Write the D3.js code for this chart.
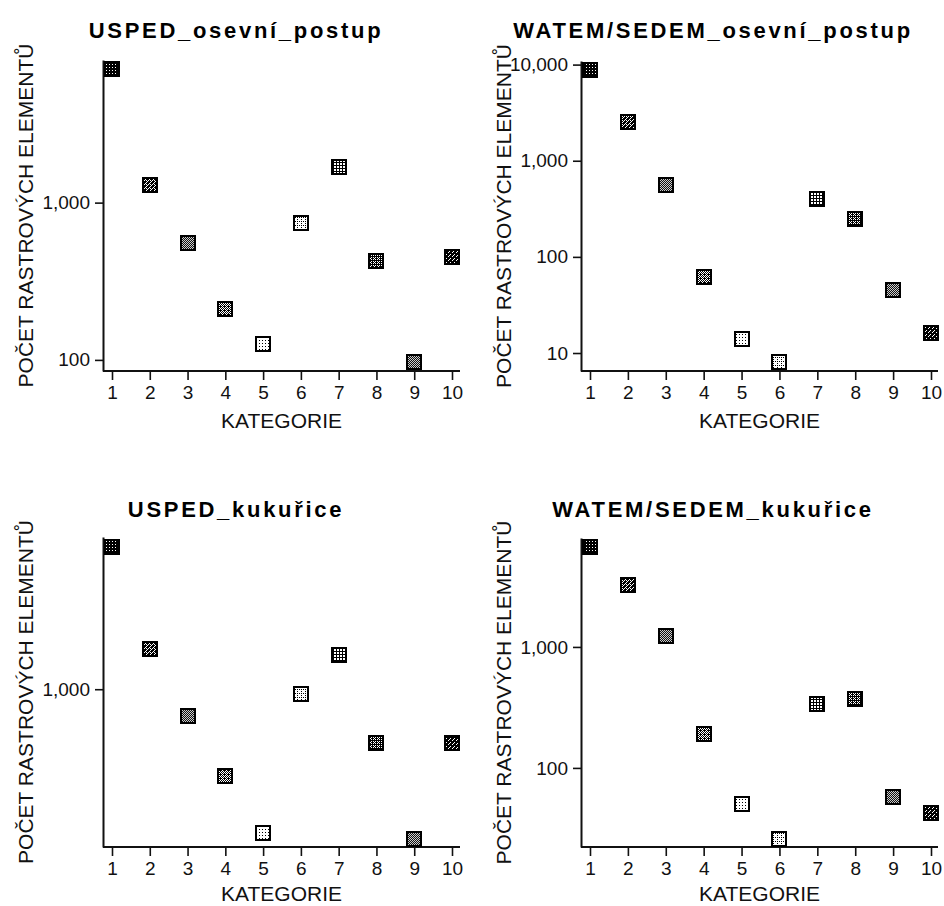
<!DOCTYPE html>
<html>
<head>
<meta charset="utf-8">
<script src="https://cdn.jsdelivr.net/npm/d3@7"></script>
<style>
  body { margin: 0; background: #fff; }
  svg { display: block; }
  .ttl { font: bold 22px "Liberation Sans", Arial, sans-serif; letter-spacing: 2.7px; fill: #000; }
  .lbl { font: 21px "Liberation Sans", Arial, sans-serif; fill: #111; }
  .tick text { font: 19px "Liberation Sans", Arial, sans-serif; fill: #111; }
</style>
</head>
<body>
<svg id="chart" width="944" height="906"></svg>
<script>
// --- data (counts per category, log scale) ---
const categories = [1, 2, 3, 4, 5, 6, 7, 8, 9, 10];
const uspedOsevni   = [7080, 1300, 557, 210, 127, 743, 1690, 428, 97, 452];
const watemOsevni   = [8810, 2550, 559, 62, 14.1, 8.1, 396, 245, 45.7, 16.0];
const uspedKukurice = [7720, 1778, 681, 287, 126, 935, 1638, 460, 115, 460];
const watemKukurice = [6700, 3275, 1224, 191, 50.4, 25.9, 336, 370, 57.5, 42.5];
const titles = ['USPED_osevní_postup', 'WATEM/SEDEM_osevní_postup', 'USPED_kukuřice', 'WATEM/SEDEM_kukuřice'];
const yDomains = [[85, 8070], [6.5, 10900], [103, 8960], [22.2, 7950]];
const yLabel = 'POČET RASTROVÝCH ELEMENTŮ';
const xLabel = 'KATEGORIE';

const series = [uspedOsevni, watemOsevni, uspedKukurice, watemKukurice];

// panel frames: y-axis x, axis top/bottom, x of category 1 and 10, right end of x axis
const frames = [
  { ax: 103, top: 60,  bottom: 371, x1: 112, x10: 452, right: 460, titleX: 236, titleY: 38,  yLblX: 33,  xLblY: 428 },
  { ax: 581, top: 61,  bottom: 371, x1: 590, x10: 931, right: 938, titleX: 713, titleY: 38,  yLblX: 511, xLblY: 428 },
  { ax: 103, top: 537, bottom: 847, x1: 112, x10: 452, right: 460, titleX: 236, titleY: 517, yLblX: 33,  xLblY: 901 },
  { ax: 581, top: 538, bottom: 847, x1: 590, x10: 931, right: 938, titleX: 713, titleY: 517, yLblX: 511, xLblY: 901 },
];

// marker fill patterns per category (pixel tiles)
const patterns = [
  { bg: '#000', fg: '#fff', n: 3, px: [[1, 1]] },
  { bg: '#000', fg: '#fff', n: 4, px: [[0, 0], [2, 2], [1, 3], [3, 1], [2, 0]] },
  { bg: '#111', fg: '#ccc', n: 2, px: [[0, 0], [1, 1]] },
  { bg: '#000', fg: '#fff', n: 4, px: [[0, 0], [1, 1], [2, 2], [3, 3], [3, 1], [1, 3], [2, 0]] },
  { bg: '#fff', fg: '#000', n: 3, px: [[1, 1]] },
  { bg: '#fff', fg: '#000', n: 4, px: [[1, 1], [3, 1], [1, 3]] },
  { bg: '#fff', fg: '#000', n: 3, px: [[0, 0], [1, 0], [2, 0], [0, 1], [0, 2]] },
  { bg: '#000', fg: '#fff', n: 4, px: [[1, 1], [3, 3], [1, 3], [3, 1], [2, 2]] },
  { bg: '#111', fg: '#ccc', n: 2, px: [[0, 0], [1, 1]] },
  { bg: '#000', fg: '#fff', n: 4, px: [[0, 0], [2, 2], [1, 3]] },
];

const svg = d3.select('#chart');
const defs = svg.append('defs');

patterns.forEach((p, i) => {
  const pat = defs.append('pattern')
    .attr('id', `pat${i + 1}`)
    .attr('patternUnits', 'userSpaceOnUse')
    .attr('width', p.n).attr('height', p.n);
  pat.append('rect').attr('width', p.n).attr('height', p.n).attr('fill', p.bg)
    .attr('shape-rendering', 'crispEdges');
  p.px.forEach(([x, y]) => {
    pat.append('rect').attr('x', x).attr('y', y).attr('width', 1).attr('height', 1)
      .attr('fill', p.fg).attr('shape-rendering', 'crispEdges');
  });
});

frames.forEach((f, i) => {
  const g = svg.append('g');
  const data = series[i];

  const x = d3.scaleLinear().domain([1, 10]).range([f.x1, f.x10]);
  const y = d3.scaleLog().domain(yDomains[i]).range([f.bottom, f.top]);

  // only decade ticks that fall inside the domain
  const yTicks = [1, 10, 100, 1000, 10000, 100000]
    .filter(t => t >= yDomains[i][0] && t <= yDomains[i][1]);

  // title
  g.append('text')
    .attr('class', 'ttl')
    .attr('x', f.titleX).attr('y', f.titleY)
    .attr('text-anchor', 'middle')
    .text(titles[i]);

  // x axis (line drawn by hand so it runs from the y axis to the right end)
  const gx = g.append('g')
    .attr('transform', `translate(0,${f.bottom})`)
    .call(d3.axisBottom(x).tickValues(categories).tickSize(9).tickSizeOuter(0).tickPadding(6));
  gx.select('.domain').remove();
  gx.selectAll('.tick line').attr('stroke', '#111').attr('stroke-width', 1.6);
  g.append('line')
    .attr('x1', f.ax).attr('x2', f.right)
    .attr('y1', f.bottom).attr('y2', f.bottom)
    .attr('stroke', '#111').attr('stroke-width', 2);

  // y axis
  const gy = g.append('g')
    .attr('transform', `translate(${f.ax},0)`)
    .call(d3.axisLeft(y).tickValues(yTicks).tickFormat(d3.format(',')).tickSize(8).tickSizeOuter(0).tickPadding(5));
  gy.select('.domain').attr('stroke', '#111').attr('stroke-width', 2);
  gy.selectAll('.tick line').attr('stroke', '#111').attr('stroke-width', 1.6);

  // axis labels
  g.append('text')
    .attr('class', 'lbl')
    .attr('x', (f.ax + f.right) / 2).attr('y', f.xLblY)
    .attr('text-anchor', 'middle')
    .text(xLabel);
  g.append('text')
    .attr('class', 'lbl')
    .attr('transform', `translate(${f.yLblX},${(f.top + f.bottom) / 2}) rotate(-90)`)
    .attr('text-anchor', 'middle')
    .text(yLabel);

  // markers
  g.append('g').selectAll('rect')
    .data(categories)
    .join('rect')
    .attr('x', c => Math.round(x(c)) - 7)
    .attr('y', (c, j) => Math.round(y(data[j])) - 7)
    .attr('width', 14).attr('height', 14)
    .attr('fill', c => `url(#pat${c})`)
    .attr('stroke', '#000')
    .attr('stroke-width', 2)
    .attr('shape-rendering', 'crispEdges');
});
</script>
</body>
</html>
